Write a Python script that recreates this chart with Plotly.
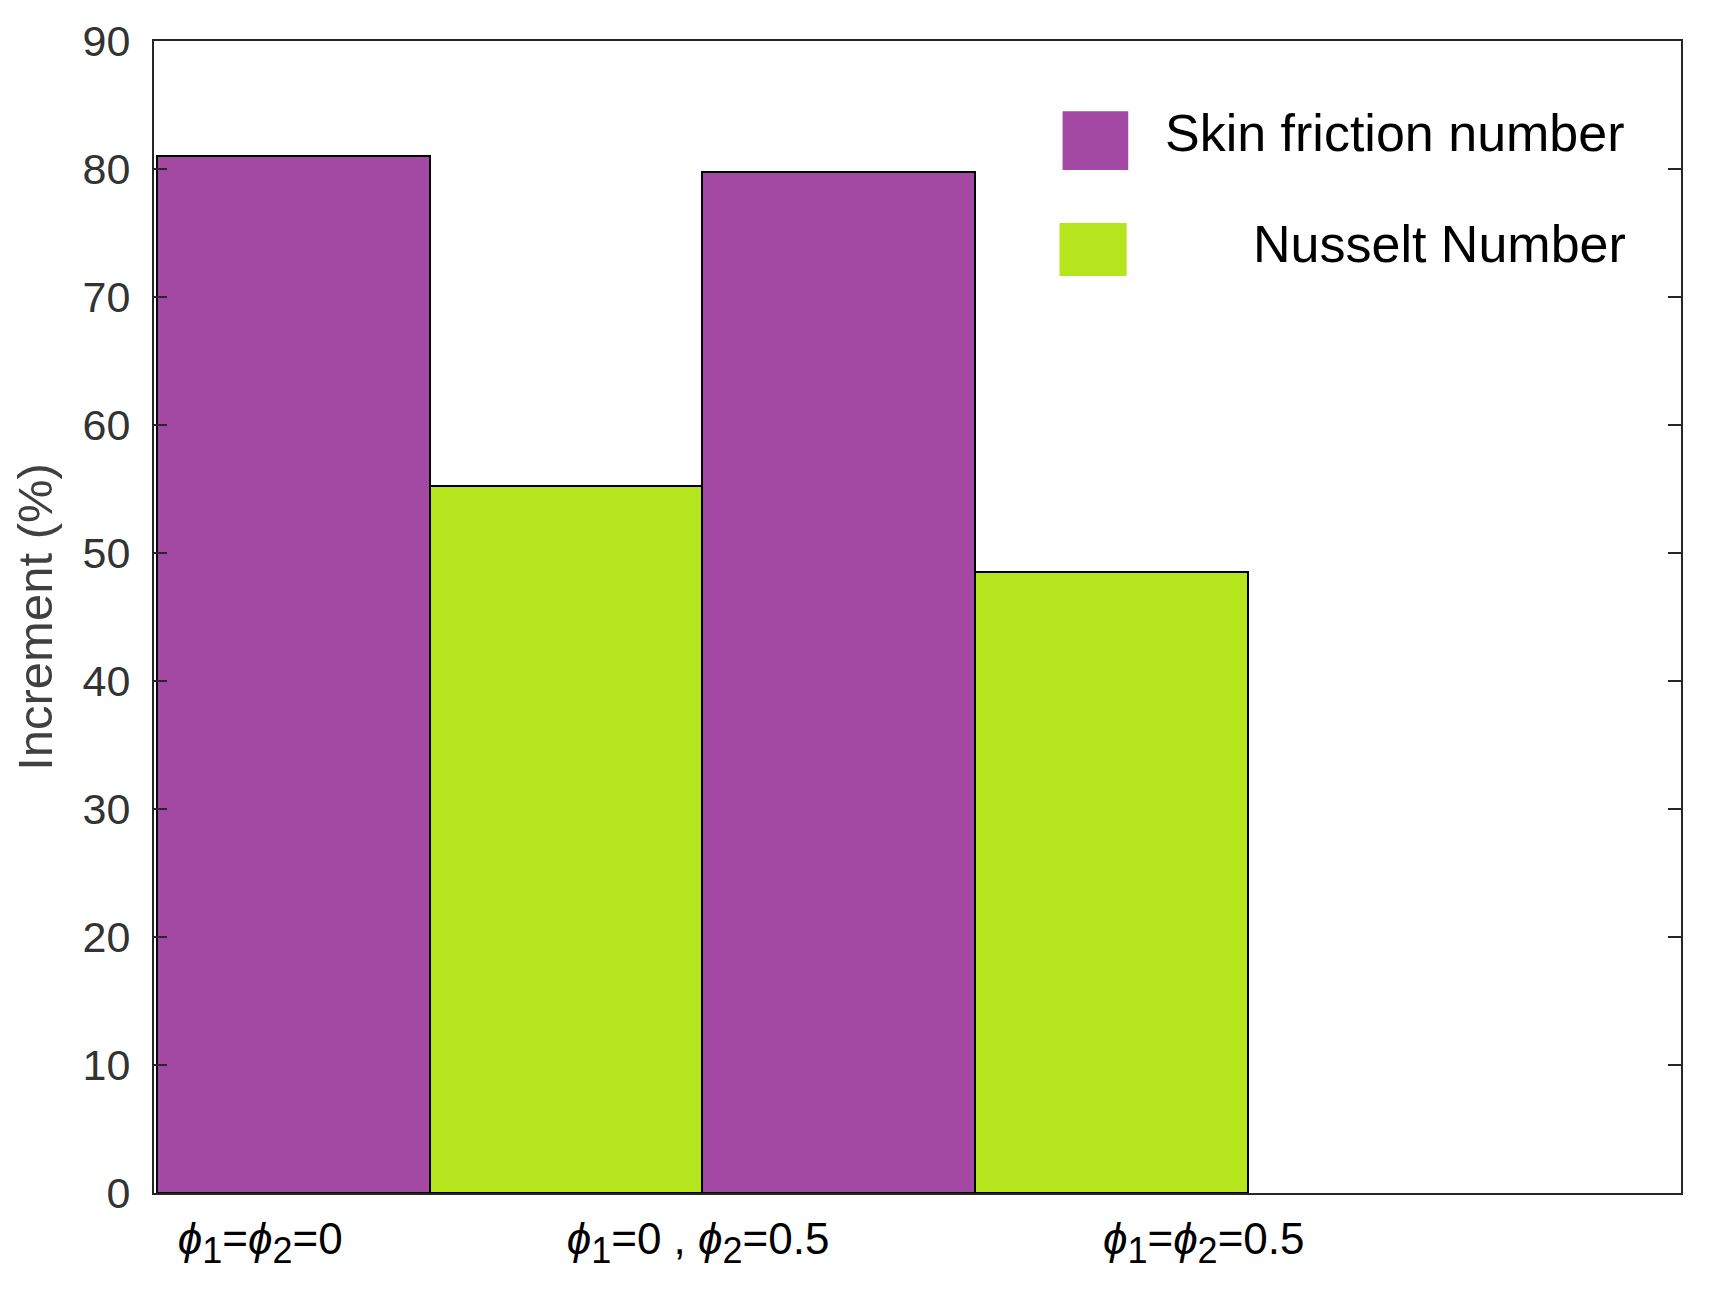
import plotly.graph_objects as go

# bar data
skin_x = [1, 3]
skin_y = [81.0, 79.8]
nusselt_x = [2, 4]
nusselt_y = [55.2, 48.5]

group_pos = [0.878, 2.484, 4.339]
SUB = "<sub><span style='font-size:36px'>{}</span></sub>"
group_labels = [
    "<i>ϕ</i>" + SUB.format(1) + "=<i>ϕ</i>" + SUB.format(2) + "=0",
    "<i>ϕ</i>" + SUB.format(1) + "=0 , <i>ϕ</i>" + SUB.format(2) + "=0.5",
    "<i>ϕ</i>" + SUB.format(1) + "=<i>ϕ</i>" + SUB.format(2) + "=0.5",
]
y_ticks = [0, 10, 20, 30, 40, 50, 60, 70, 80, 90]

PURPLE = "#A349A4"
GREEN = "#B5E61D"

fig = go.Figure()
fig.add_trace(go.Bar(x=skin_x, y=skin_y, width=1, name="Skin friction number",
                     marker=dict(color=PURPLE, line=dict(color="black", width=2))))
fig.add_trace(go.Bar(x=nusselt_x, y=nusselt_y, width=1, name="Nusselt Number",
                     marker=dict(color=GREEN, line=dict(color="black", width=2))))

# page body has an 8px margin, so the figure is 8px smaller than the window
fig.update_layout(
    width=1712, height=1299,
    margin=dict(l=146, r=39, t=33, b=114),
    paper_bgcolor="white", plot_bgcolor="white",
    showlegend=False,
    bargap=0,
    font=dict(family="Liberation Sans, Arial, sans-serif", color="#262626"),
)

fig.update_xaxes(
    range=[0.488, 6.09],
    tickvals=group_pos, ticktext=group_labels,
    ticks="", showgrid=False, zeroline=False,
    showline=True, linecolor="#262626", linewidth=2, mirror=True,
    tickfont=dict(family="Liberation Sans Narrow, Liberation Sans, Arial", size=44, color="black"),
    ticklabelstandoff=6,
    automargin=False,
)
fig.update_yaxes(
    range=[0, 90], tickvals=y_ticks,
    ticks="inside", ticklen=13, tickwidth=2, tickcolor="#262626",
    showgrid=False, zeroline=False,
    showline=True, linecolor="#262626", linewidth=2, mirror="ticks",
    tickfont=dict(size=43, color="#333333"),
    ticklabelstandoff=13,
    title=dict(text="Increment (%)", font=dict(size=49, color="#404040"), standoff=14),
    automargin=False,
)

# legend drawn by hand (big swatches, second label right-aligned)
fig.add_shape(type="rect", xref="paper", yref="paper", x0=0.595, x1=0.638, y0=0.888, y1=0.939,
              fillcolor=PURPLE, line=dict(width=0))
fig.add_shape(type="rect", xref="paper", yref="paper", x0=0.593, x1=0.637, y0=0.796, y1=0.842,
              fillcolor=GREEN, line=dict(width=0))
fig.add_annotation(xref="paper", yref="paper", x=0.661, y=0.920, xanchor="left", yanchor="middle",
                   text="Skin friction number", showarrow=False,
                   font=dict(size=52, color="black"))
fig.add_annotation(xref="paper", yref="paper", x=0.965, y=0.824, xanchor="right", yanchor="middle",
                   text="Nusselt Number", showarrow=False,
                   font=dict(size=52, color="black"))

fig.write_html("out.html")
